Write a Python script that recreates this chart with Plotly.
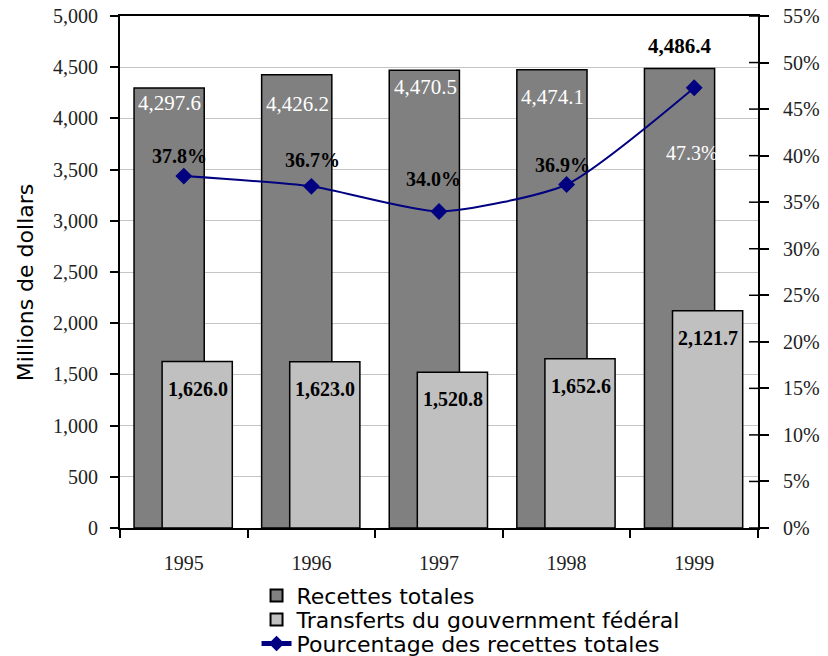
import plotly.graph_objects as go

years = ["1995", "1996", "1997", "1998", "1999"]
recettes = [4297.6, 4426.2, 4470.5, 4474.1, 4486.4]
transferts = [1626.0, 1623.0, 1520.8, 1652.6, 2121.7]
pourcentage = [37.8, 36.7, 34.0, 36.9, 47.3]

left_ticks = list(range(0, 5001, 500))
left_text = [f"{v:,}" for v in left_ticks]
right_ticks = list(range(0, 56, 5))
right_text = [f"{v}%" for v in right_ticks]

SERIF = "Liberation Serif"
SANS = "DejaVu Sans"
TICKFONT = dict(family=SERIF, size=20, color="#222222")

fig = go.Figure()
fig.add_trace(go.Bar(
    x=years, y=recettes, name="Recettes totales",
    marker=dict(color="#808080", line=dict(color="black", width=1.5)),
    width=0.55, offset=-0.39, yaxis="y", legend="legend",
))
fig.add_trace(go.Bar(
    x=years, y=transferts, name="Transferts du gouvernment fédéral",
    marker=dict(color="#c0c0c0", line=dict(color="black", width=1.5)),
    width=0.55, offset=-0.17, yaxis="y", legend="legend2",
))
fig.add_trace(go.Scatter(
    x=years, y=pourcentage, name="Pourcentage des recettes totales",
    mode="lines+markers", yaxis="y2", legend="legend3",
    line=dict(color="#000080", width=2, shape="spline", smoothing=0.6),
    marker=dict(symbol="diamond", size=13, color="#000080"),
))

annotations = []
rec_shift = [-15, -29, -17, -27, 23]
rec_color = ["white", "white", "white", "white", "black"]
for i, v in enumerate(recettes):
    txt = f"{v:,.1f}" if rec_color[i] == "white" else f"<b>{v:,.1f}</b>"
    annotations.append(dict(x=i, y=v, xref="x", yref="y", text=txt,
                            showarrow=False, xshift=-14, yshift=rec_shift[i],
                            font=dict(family=SERIF, size=21, color=rec_color[i])))
for i, v in enumerate(transferts):
    annotations.append(dict(x=i, y=v, xref="x", yref="y", text=f"<b>{v:,.1f}</b>",
                            showarrow=False, xshift=14, yshift=-27,
                            font=dict(family=SERIF, size=20, color="black")))
pc_xshift = [-4, 1, -6, -4, -2]
pc_yshift = [20, 26, 32, 19, -65]
pc_color = ["black", "black", "black", "black", "white"]
for i, v in enumerate(pourcentage):
    txt = f"<b>{v:.1f}%</b>" if pc_color[i] == "black" else f"{v:.1f}%"
    annotations.append(dict(x=i, y=v, xref="x", yref="y2", text=txt,
                            showarrow=False, xshift=pc_xshift[i], yshift=pc_yshift[i],
                            font=dict(family=SERIF, size=20, color=pc_color[i])))

# y-axis title as a rotated annotation
annotations.append(dict(x=-0.149, y=0.48, xref="paper", yref="paper", textangle=-90,
                        xanchor="center", yanchor="middle",
                        text="Millions de dollars", showarrow=False,
                        font=dict(family=SANS, size=22, color="black")))

# inner half of the crossing ticks on the right axis
shapes = [dict(type="line", xref="paper", yref="y2", x0=1, x1=1 - 9 / 638, y0=t, y1=t,
               line=dict(color="black", width=1.5)) for t in right_ticks]

leg_common = dict(x=0.214, xanchor="left", yanchor="middle",
                  font=dict(family=SANS, size=22, color="black"),
                  bgcolor="rgba(0,0,0,0)", itemsizing="constant")

fig.update_layout(
    width=828, height=656,
    margin=dict(l=120, r=70, t=16, b=128, autoexpand=False),
    paper_bgcolor="white", plot_bgcolor="white",
    font=dict(family=SERIF, size=20, color="#222222"),
    barmode="overlay",
    showlegend=True,
    annotations=annotations,
    shapes=shapes,
    legend=dict(y=-0.132, **leg_common),
    legend2=dict(y=-0.179, **leg_common),
    legend3=dict(y=-0.226, **leg_common),
    xaxis=dict(
        type="category", showline=True, linecolor="black", linewidth=2,
        mirror=True, ticks="outside", ticklen=8, tickcolor="black",
        tickwidth=1.5, tickson="boundaries", showgrid=False,
        tickfont=TICKFONT, range=[-0.5, 4.5], automargin=False,
        ticklabelstandoff=16,
    ),
    yaxis=dict(
        range=[0, 5000], tickmode="array", tickvals=left_ticks, ticktext=left_text,
        showline=True, linecolor="black", linewidth=2,
        ticks="outside", ticklen=8, tickcolor="black", tickwidth=1.5,
        showgrid=True, gridcolor="#c4c4c4", gridwidth=1, zeroline=False,
        tickfont=TICKFONT, automargin=False, ticklabelstandoff=8,
    ),
    yaxis2=dict(
        range=[0, 55], tickmode="array", tickvals=right_ticks, ticktext=right_text,
        overlaying="y", side="right", anchor="x",
        showline=True, linecolor="black", linewidth=2,
        ticks="outside", ticklen=9, tickcolor="black", tickwidth=1.5,
        showgrid=False, zeroline=False, automargin=False,
        tickfont=TICKFONT, ticklabelstandoff=10,
    ),
)

fig.write_html("out.html")
